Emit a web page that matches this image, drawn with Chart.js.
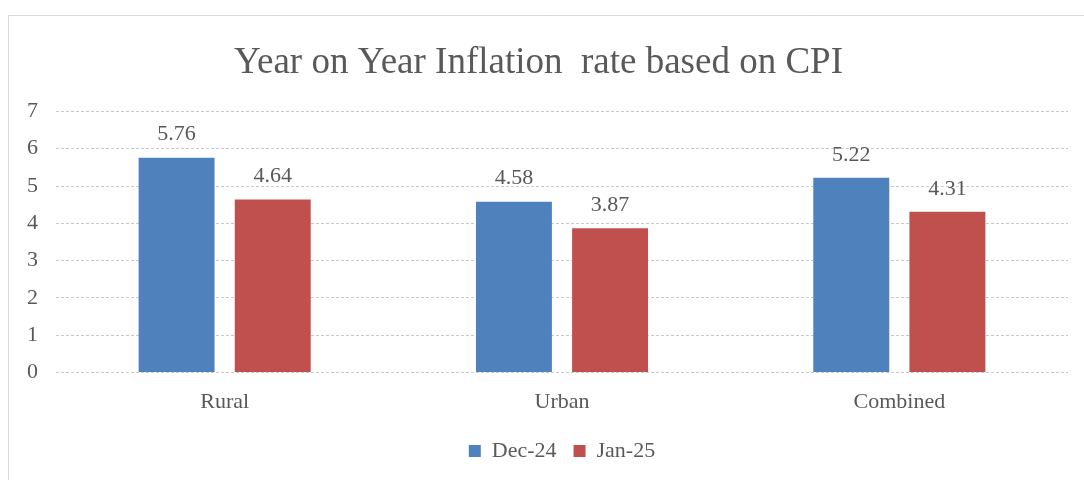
<!DOCTYPE html>
<html>
<head>
<meta charset="utf-8">
<script src="https://cdn.jsdelivr.net/npm/chart.js@4"></script>
<style>
  body { margin: 0; background: #fff; }
  #wrap { width: 1084px; height: 480px; }
</style>
</head>
<body>
<div id="wrap"><canvas id="cpi-chart"></canvas></div>
<script>
// datos del gráfico
const categories = ['Rural', 'Urban', 'Combined'];
const dec24 = [5.76, 4.58, 5.22];
const jan25 = [4.64, 3.87, 4.31];
const yTicks = [0, 1, 2, 3, 4, 5, 6, 7];

const textColor = '#595959';
const serif = "'Liberation Serif', 'Times New Roman', serif";

// fondo blanco y marco del gráfico
const frame = {
  id: 'frame',
  beforeDraw(chart) {
    const ctx = chart.ctx;
    ctx.save();
    ctx.fillStyle = '#fff';
    ctx.fillRect(0, 0, chart.width, chart.height);
    ctx.strokeStyle = '#d9d9d9';
    ctx.lineWidth = 1;
    ctx.beginPath();
    ctx.moveTo(8.5, chart.height);
    ctx.lineTo(8.5, 15.5);
    ctx.lineTo(chart.width, 15.5);
    ctx.stroke();
    ctx.restore();
  }
};

// etiquetas de valor encima de cada barra
const valueLabels = {
  id: 'valueLabels',
  afterDatasetsDraw(chart) {
    const ctx = chart.ctx;
    ctx.save();
    ctx.font = '22px ' + serif;
    ctx.fillStyle = textColor;
    ctx.textAlign = 'center';
    ctx.textBaseline = 'bottom';
    chart.data.datasets.forEach((ds, i) => {
      chart.getDatasetMeta(i).data.forEach((bar, j) => {
        ctx.fillText(ds.data[j].toFixed(2), bar.x, bar.y - 12);
      });
    });
    ctx.restore();
  }
};

new Chart(document.getElementById('cpi-chart'), {
  type: 'bar',
  data: {
    labels: categories,
    datasets: [
      { label: 'Dec-24', data: dec24, backgroundColor: '#4f81bd', barPercentage: 0.79, categoryPercentage: 0.57 },
      { label: 'Jan-25', data: jan25, backgroundColor: '#c0504d', barPercentage: 0.79, categoryPercentage: 0.57 }
    ]
  },
  options: {
    responsive: true,
    maintainAspectRatio: false,
    animation: false,
    layout: { padding: { left: 9, right: 16, top: 41, bottom: 8 } },
    plugins: {
      title: {
        display: true,
        text: 'Year on Year Inflation  rate based on CPI',
        color: textColor,
        font: { family: serif, size: 37, weight: 'normal' },
        padding: { top: 0, bottom: 26 }
      },
      legend: {
        position: 'bottom',
        fullSize: false,
        labels: {
          color: textColor,
          font: { family: serif, size: 22 },
          boxWidth: 12,
          boxHeight: 12,
          padding: 17
        }
      },
      tooltip: { enabled: false }
    },
    scales: {
      x: {
        grid: { display: false },
        border: { display: false },
        ticks: { color: textColor, font: { family: serif, size: 22 }, padding: 8 }
      },
      y: {
        min: 0,
        max: 7,
        afterBuildTicks: (axis) => { axis.ticks = yTicks.map(v => ({ value: v })); },
        grid: { color: '#c8c8c8', drawTicks: false },
        border: { display: false, dash: [3, 2] },
        ticks: { color: textColor, font: { family: serif, size: 22 }, padding: 18 }
      }
    }
  },
  plugins: [frame, valueLabels]
});
</script>
</body>
</html>
